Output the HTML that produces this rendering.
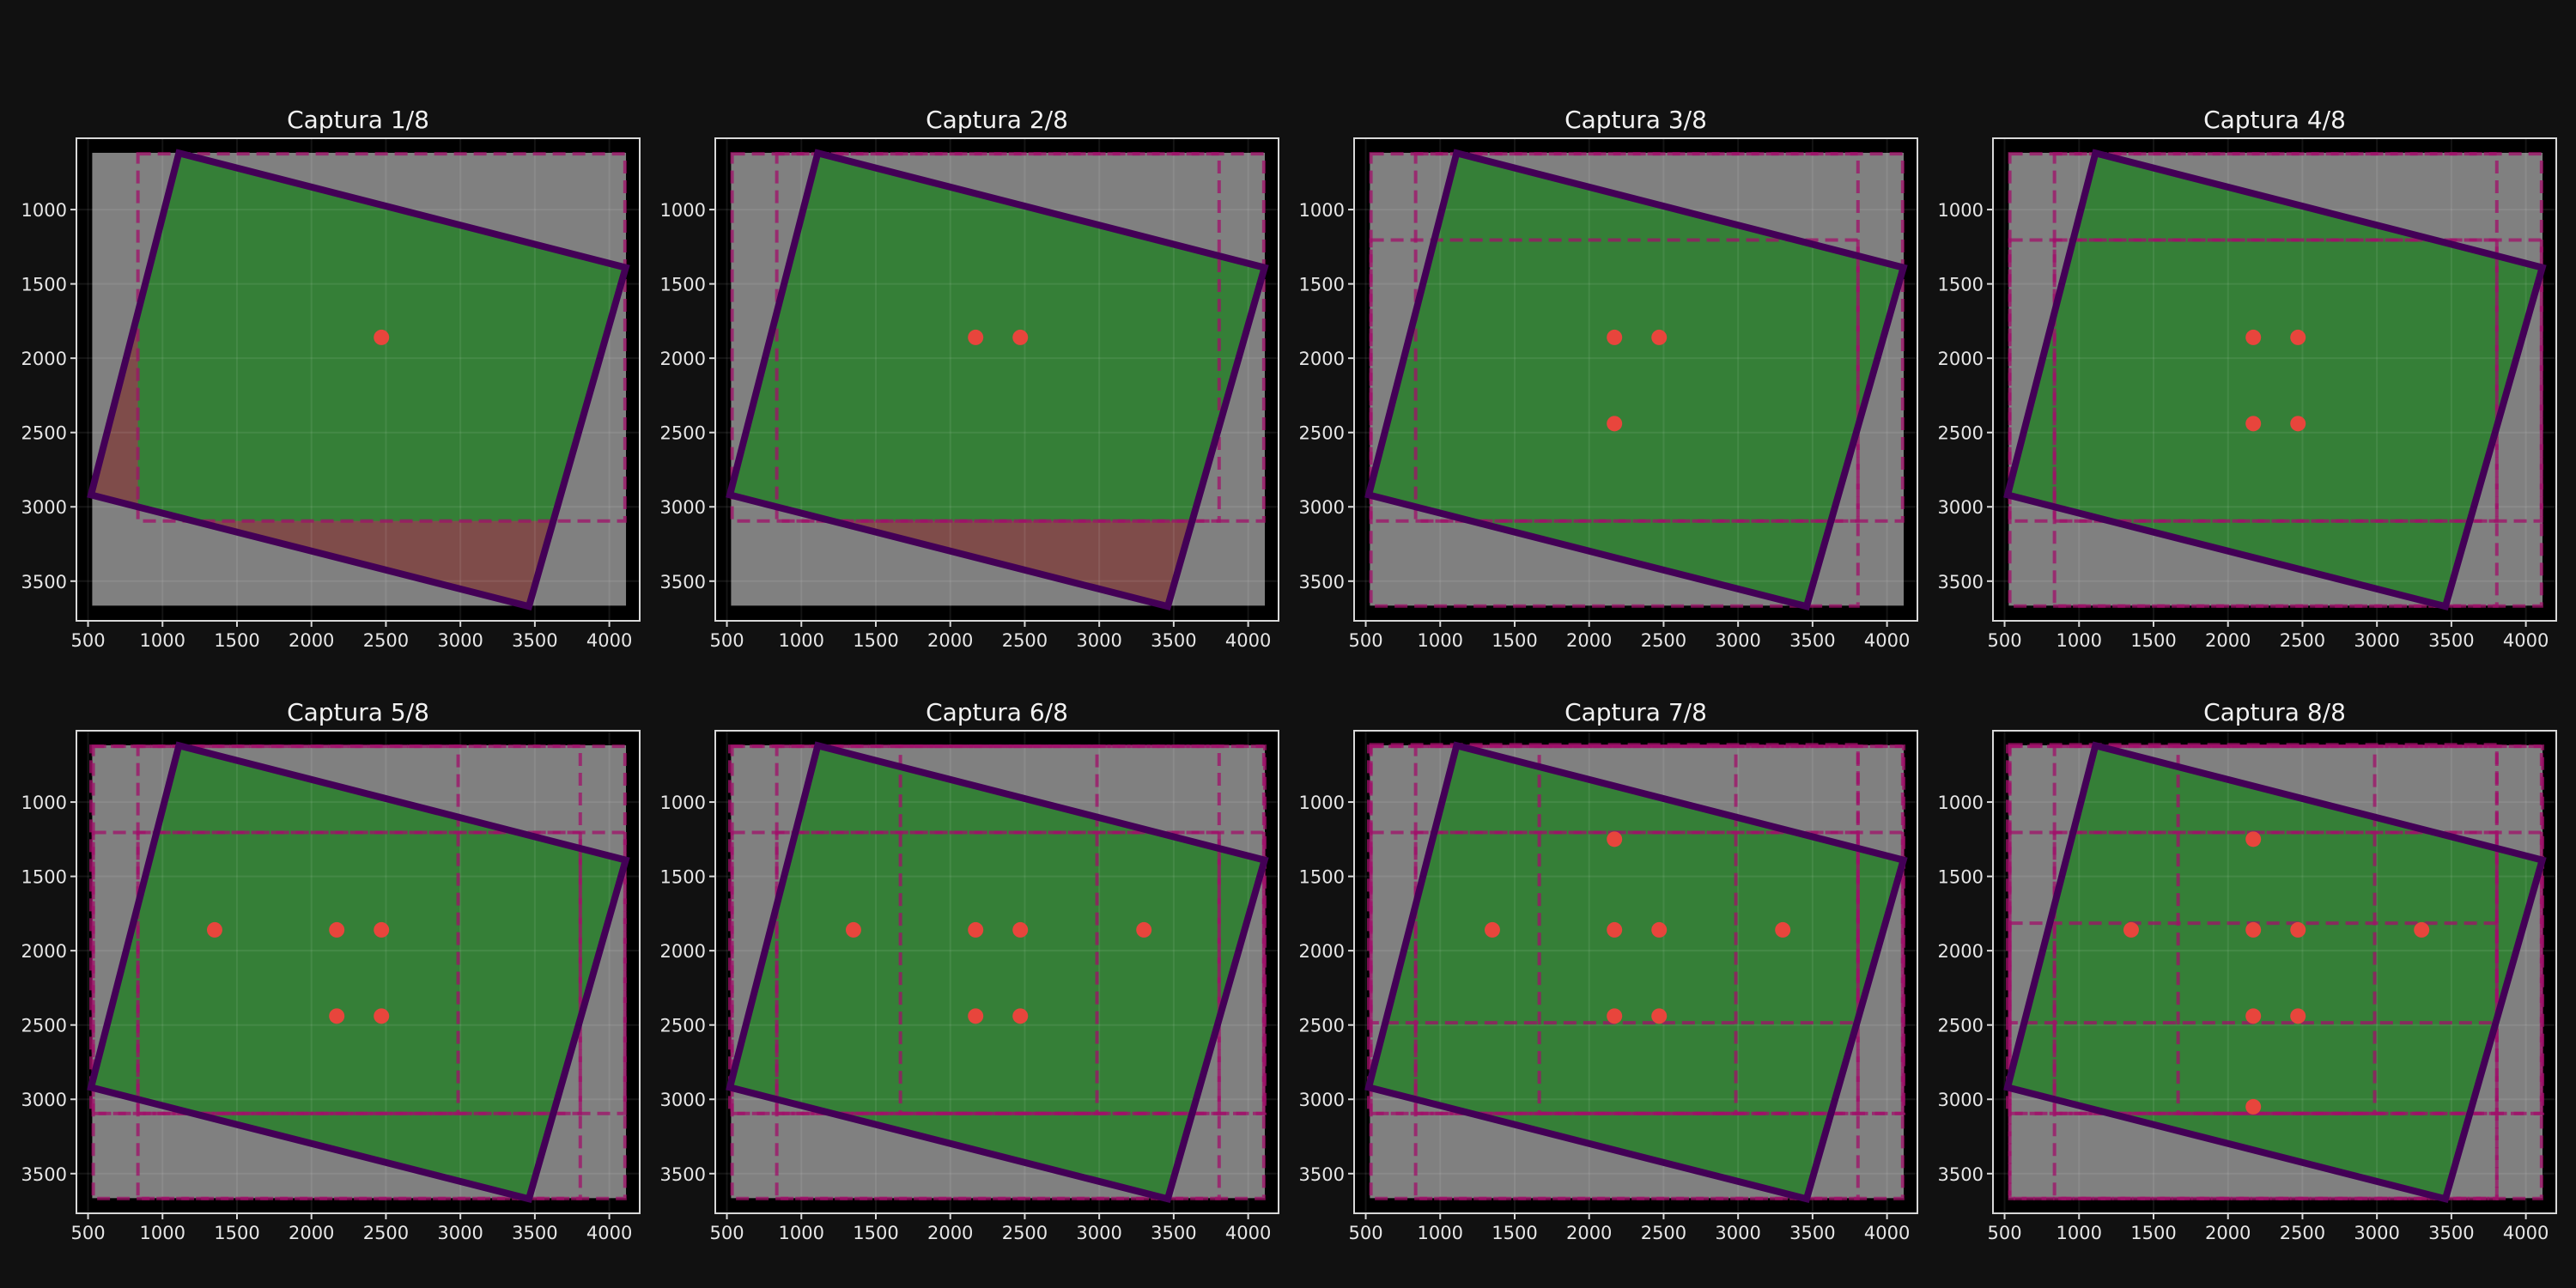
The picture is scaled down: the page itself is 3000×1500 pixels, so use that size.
<!DOCTYPE html>
<html><head><meta charset="utf-8"><style>
html,body{margin:0;padding:0;background:#111111;}
svg{display:block;font-family:"DejaVu Sans","Liberation Sans",sans-serif;}
</style></head><body>
<svg id="fig" width="3000" height="1500" viewBox="0 0 3000 1500" xmlns="http://www.w3.org/2000/svg">
<rect x="0" y="0" width="3000" height="1500" fill="#111111"/>
</svg>
<script>
// Data
const capturePointsX = [2470, 2170, 2170, 2470, 1350, 3300, 2170, 2170];
const capturePointsY = [1860, 1860, 2440, 2440, 1860, 1860, 1250, 3050];
const footprintHalfW = 1635;
const footprintHalfH = 1235;
const polygonX = [1110, 4110, 3460, 520];
const polygonY = [620, 1390, 3670, 2920];
const imageExtentX = [528, 4112];
const imageExtentY = [618, 3665];
const xTicks = [500, 1000, 1500, 2000, 2500, 3000, 3500, 4000];
const yTicks = [1000, 1500, 2000, 2500, 3000, 3500];
const titles = ["Captura 1/8","Captura 2/8","Captura 3/8","Captura 4/8","Captura 5/8","Captura 6/8","Captura 7/8","Captura 8/8"];

const XMIN = 422, XMAX = 4204, YTOP = 520, YBOT = 3767;
const colLeft = [89, 833, 1577, 2321], rowTop = [161, 851];
const AW = 656, AH = 562;
const NS = "http://www.w3.org/2000/svg";
const fig = document.getElementById('fig');
function mk(tag, attrs, parent){const e=document.createElementNS(NS,tag);for(const k in attrs)e.setAttribute(k,attrs[k]);parent.appendChild(e);return e;}

for (let p = 0; p < 8; p++) {
  const L = colLeft[p % 4], T = rowTop[Math.floor(p / 4)];
  const sx = v => L + (v - XMIN) / (XMAX - XMIN) * AW;
  const sy = v => T + (v - YTOP) / (YBOT - YTOP) * AH;
  const g = mk('g', {}, fig);
  
  
  const bg = mk('rect', {x:L, y:T, width:AW, height:AH, fill:'#000'}, g);
  
  
  const cp = mk('clipPath', {id:'ax' + p}, g);
  mk('rect', {x:L, y:T, width:AW, height:AH}, cp);
  const inner = mk('g', {'clip-path':'url(#ax' + p + ')'}, g);
  const img = mk('rect', {x:sx(imageExtentX[0]), y:sy(imageExtentY[0]), width:sx(imageExtentX[1]) - sx(imageExtentX[0]), height:sy(imageExtentY[1]) - sy(imageExtentY[0]), fill:'#808080'}, inner);
  
  
  const pts = polygonX.map((x, i) => sx(x) + ',' + sy(polygonY[i])).join(' ');
  const red = mk('polygon', {points:pts, fill:'#7f4c4a'}, inner);
  
  
  const pc = mk('clipPath', {id:'pc' + p}, g);
  mk('polygon', {points:pts}, pc);
  const gg = mk('g', {'clip-path':'url(#pc' + p + ')'}, inner);
  const rects = [];
  for (let i = 0; i <= p; i++) {
    const x0 = Math.max(capturePointsX[i] - footprintHalfW, 520), x1 = Math.min(capturePointsX[i] + footprintHalfW, 4112);
    const y0 = Math.max(capturePointsY[i] - footprintHalfH, 614), y1 = Math.min(capturePointsY[i] + footprintHalfH, 3667);
    rects.push([x0, y0, x1, y1]);
    const gr = mk('rect', {x:sx(x0), y:sy(y0), width:sx(x1) - sx(x0), height:sy(y1) - sy(y0), fill:'#357f37'}, gg);
    
    
  }
  xTicks.forEach(t => { const l = mk('line', {x1:sx(t), x2:sx(t), y1:T, y2:T + AH, stroke:'rgba(255,255,255,0.08)', 'stroke-width':2}, inner);   });
  yTicks.forEach(t => { const l = mk('line', {y1:sy(t), y2:sy(t), x1:L, x2:L + AW, stroke:'rgba(255,255,255,0.08)', 'stroke-width':2}, inner);   });
  rects.forEach(r => {
    const fr = mk('rect', {x:sx(r[0]), y:sy(r[1]), width:sx(r[2]) - sx(r[0]), height:sy(r[3]) - sy(r[1]), fill:'none', stroke:'#a0106a', 'stroke-opacity':0.75, 'stroke-width':4, 'stroke-dasharray':'15 8'}, inner);
    
    
  });
  const outline = mk('polygon', {points:pts, fill:'none', stroke:'#430056', 'stroke-width':8, 'stroke-linejoin':'miter'}, inner);
  
  
  for (let i = 0; i <= p; i++) {
    const c = mk('circle', {cx:sx(capturePointsX[i]), cy:sy(capturePointsY[i]), r:9, fill:'#e8453c'}, inner);
    
    
  }
  const sp = mk('rect', {x:L, y:T, width:AW, height:AH, fill:'none', stroke:'#d8d8d8', 'stroke-width':2}, g);
  
  
  xTicks.forEach(t => {
    mk('line', {x1:sx(t), x2:sx(t), y1:T + AH, y2:T + AH + 7, stroke:'#d8d8d8', 'stroke-width':2}, g);
    const tx = mk('text', {x:sx(t), y:T + AH + 30, 'text-anchor':'middle', 'font-size':21, fill:'#e6e6e6'}, g);
    tx.textContent = t;
    
    
  });
  yTicks.forEach(t => {
    mk('line', {x1:L - 7, x2:L, y1:sy(t), y2:sy(t), stroke:'#d8d8d8', 'stroke-width':2}, g);
    const tx = mk('text', {x:L - 11, y:sy(t) + 8, 'text-anchor':'end', 'font-size':21, fill:'#e6e6e6'}, g);
    tx.textContent = t;
    
    
  });
  const ti = mk('text', {x:L + AW / 2, y:T - 12, 'text-anchor':'middle', 'font-size':28, fill:'#f2f2f2'}, g);
  ti.textContent = titles[p];
  
  
}
</script>
</body></html>
